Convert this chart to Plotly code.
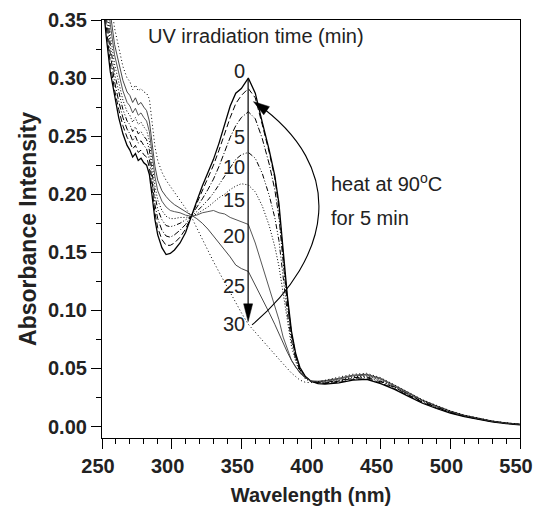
import plotly.graph_objects as go

# ---------------- data ----------------
wavelength = [250, 253, 256, 259, 262, 265, 268, 270, 272, 274, 276, 278, 280, 282, 284, 286, 288, 290,
              293, 296, 299, 302, 306, 310, 314, 318, 322, 326, 330, 334, 338, 342, 346, 350, 355, 360,
              365, 370, 374, 377, 380, 383, 386, 389, 392, 396, 400, 405, 410, 420, 430, 440, 450, 460,
              470, 480, 490, 500, 510, 520, 530, 540, 550]

abs_0min = [0.375, 0.336, 0.305, 0.284, 0.266, 0.252, 0.242, 0.238, 0.232, 0.235, 0.229, 0.231, 0.227, 0.225,
            0.217, 0.198, 0.178, 0.165, 0.154, 0.148, 0.149, 0.152, 0.158, 0.167, 0.181, 0.194, 0.207, 0.219,
            0.230, 0.244, 0.259, 0.276, 0.287, 0.291, 0.300, 0.287, 0.262, 0.238, 0.216, 0.192, 0.152, 0.113,
            0.082, 0.063, 0.051, 0.043, 0.039, 0.037, 0.0365, 0.0375, 0.040, 0.0405, 0.037, 0.032, 0.026,
            0.020, 0.0155, 0.0115, 0.0085, 0.006, 0.004, 0.0025, 0.0015]
abs_heated = [0.39, 0.345, 0.312, 0.290, 0.273, 0.259, 0.249, 0.245, 0.239, 0.242, 0.236, 0.238, 0.234, 0.232,
              0.223, 0.203, 0.184, 0.171, 0.161, 0.156, 0.156, 0.158, 0.163, 0.170, 0.181, 0.192, 0.203, 0.214,
              0.225, 0.238, 0.252, 0.266, 0.278, 0.285, 0.291, 0.283, 0.260, 0.236, 0.214, 0.188, 0.148, 0.110,
              0.080, 0.062, 0.050, 0.043, 0.039, 0.0375, 0.037, 0.038, 0.0405, 0.041, 0.0375, 0.0325, 0.0265,
              0.0205, 0.016, 0.012, 0.0088, 0.0062, 0.0042, 0.0027, 0.0016]
abs_5min = [0.40, 0.355, 0.320, 0.297, 0.280, 0.266, 0.256, 0.252, 0.246, 0.250, 0.244, 0.246, 0.242, 0.239,
            0.230, 0.210, 0.191, 0.179, 0.169, 0.164, 0.163, 0.165, 0.169, 0.174, 0.181, 0.188, 0.196, 0.204,
            0.213, 0.224, 0.236, 0.249, 0.259, 0.266, 0.271, 0.265, 0.248, 0.226, 0.204, 0.180, 0.142, 0.106,
            0.078, 0.060, 0.049, 0.042, 0.039, 0.0378, 0.0375, 0.039, 0.0415, 0.042, 0.0385, 0.0335, 0.0272,
            0.021, 0.0165, 0.0123, 0.009, 0.0064, 0.0043, 0.0028, 0.0017]
abs_10min = [0.41, 0.365, 0.328, 0.304, 0.287, 0.273, 0.263, 0.260, 0.254, 0.258, 0.252, 0.254, 0.250, 0.247,
             0.238, 0.218, 0.199, 0.187, 0.178, 0.173, 0.172, 0.173, 0.175, 0.178, 0.181, 0.185, 0.190, 0.195,
             0.201, 0.208, 0.215, 0.222, 0.230, 0.234, 0.236, 0.231, 0.218, 0.199, 0.180, 0.160, 0.130, 0.098,
             0.074, 0.058, 0.048, 0.042, 0.039, 0.038, 0.038, 0.0395, 0.042, 0.0428, 0.039, 0.034, 0.0277,
             0.0215, 0.017, 0.0126, 0.0092, 0.0066, 0.0044, 0.0029, 0.0018]
abs_15min = [0.42, 0.375, 0.337, 0.312, 0.295, 0.281, 0.271, 0.268, 0.262, 0.266, 0.260, 0.262, 0.258, 0.255,
             0.246, 0.226, 0.207, 0.195, 0.186, 0.181, 0.179, 0.179, 0.180, 0.180, 0.181, 0.183, 0.186, 0.189,
             0.193, 0.197, 0.200, 0.204, 0.207, 0.209, 0.208, 0.202, 0.190, 0.173, 0.155, 0.138, 0.115, 0.090,
             0.069, 0.056, 0.047, 0.041, 0.0385, 0.038, 0.0385, 0.040, 0.0428, 0.0435, 0.040, 0.0345, 0.028,
             0.022, 0.0172, 0.0128, 0.0093, 0.0067, 0.0045, 0.003, 0.0018]
abs_20min = [0.43, 0.385, 0.346, 0.320, 0.303, 0.289, 0.279, 0.276, 0.270, 0.274, 0.268, 0.270, 0.266, 0.263,
             0.254, 0.234, 0.215, 0.203, 0.194, 0.189, 0.186, 0.185, 0.184, 0.182, 0.181, 0.182, 0.184, 0.185,
             0.186, 0.184, 0.183, 0.180, 0.178, 0.176, 0.174, 0.158, 0.139, 0.120, 0.104, 0.092, 0.077, 0.066,
             0.057, 0.051, 0.047, 0.042, 0.039, 0.0385, 0.039, 0.0408, 0.0435, 0.0443, 0.0408, 0.035, 0.0285,
             0.0224, 0.0175, 0.013, 0.0095, 0.0068, 0.0046, 0.003, 0.0019]
abs_25min = [0.44, 0.395, 0.356, 0.329, 0.312, 0.298, 0.288, 0.285, 0.279, 0.283, 0.277, 0.279, 0.275, 0.272,
             0.263, 0.243, 0.224, 0.212, 0.203, 0.198, 0.194, 0.191, 0.188, 0.185, 0.182, 0.179, 0.175, 0.170,
             0.164, 0.158, 0.153, 0.146, 0.139, 0.136, 0.1335, 0.122, 0.110, 0.098, 0.088, 0.080, 0.071, 0.064,
             0.057, 0.051, 0.046, 0.042, 0.0393, 0.039, 0.0395, 0.0415, 0.0442, 0.045, 0.0415, 0.0355, 0.029,
             0.0228, 0.0178, 0.0133, 0.0097, 0.007, 0.0047, 0.0031, 0.002]
abs_30min = [0.45, 0.41, 0.37, 0.343, 0.325, 0.310, 0.300, 0.297, 0.290, 0.294, 0.289, 0.291, 0.288, 0.287,
             0.282, 0.262, 0.241, 0.229, 0.219, 0.212, 0.207, 0.202, 0.195, 0.188, 0.181, 0.171, 0.161, 0.151,
             0.142, 0.133, 0.124, 0.115, 0.107, 0.098, 0.088, 0.081, 0.074, 0.067, 0.062, 0.058, 0.054, 0.050,
             0.046, 0.043, 0.040, 0.038, 0.0378, 0.0385, 0.040, 0.0425, 0.045, 0.0458, 0.042, 0.036, 0.0295,
             0.023, 0.018, 0.0135, 0.0098, 0.0071, 0.0048, 0.0032, 0.002]

series_names = ["0 min", "after heating (90 °C, 5 min)", "5 min", "10 min", "15 min", "20 min", "25 min", "30 min"]
series_values = [abs_0min, abs_heated, abs_5min, abs_10min, abs_15min, abs_20min, abs_25min, abs_30min]

time_labels = ["0", "5", "10", "15", "20", "25", "30"]

x_ticks = [250, 300, 350, 400, 450, 500, 550]
y_ticks = [0.00, 0.05, 0.10, 0.15, 0.20, 0.25, 0.30, 0.35]

# ---------------- styling ----------------
FONT = "Liberation Sans, Arial, Helvetica, sans-serif"
TXT = "#222222"
styles = [
    dict(color="black", width=1.3, dash="solid"),
    dict(color="black", width=1.0, dash="6px,3px"),
    dict(color="black", width=1.0, dash="6px,2px,1px,2px"),
    dict(color="black", width=1.0, dash="5px,2px,1px,2px,1px,2px"),
    dict(color="black", width=1.0, dash="1px,2px"),
    dict(color="#444444", width=0.9, dash="solid"),
    dict(color="#333333", width=0.9, dash="solid"),
    dict(color="black", width=1.0, dash="1px,2.5px"),
]

fig = go.Figure()
for name, vals, st in zip(series_names, series_values, styles):
    assert len(vals) == len(wavelength)
    fig.add_trace(go.Scatter(x=wavelength, y=vals, mode="lines", name=name, line=st,
                             showlegend=False))

# time labels next to the vertical arrow (layout positions)
label_y = [0.306, 0.2496, 0.2233, 0.1946, 0.1644, 0.1213, 0.0884]
annotations = []
for t, yy in zip(time_labels, label_y):
    annotations.append(dict(x=354.0, y=yy, xref="x", yref="y", text=t, showarrow=False,
                            xanchor="right", yanchor="middle",
                            font=dict(family=FONT, size=20, color=TXT)))

annotations += [
    dict(x=281.5, y=0.3366, xref="x", yref="y", text="UV irradiation time (min)", showarrow=False,
         xanchor="left", yanchor="middle", font=dict(family=FONT, size=20, color=TXT)),
    dict(x=412.9, y=0.2097, xref="x", yref="y", text="heat at 90<sup>o</sup>C", showarrow=False,
         xanchor="left", yanchor="middle", font=dict(family=FONT, size=20, color=TXT)),
    dict(x=412.9, y=0.1795, xref="x", yref="y", text="for 5 min", showarrow=False,
         xanchor="left", yanchor="middle", font=dict(family=FONT, size=20, color=TXT)),
]

shapes = [
    # vertical arrow shaft + head
    dict(type="line", xref="x", yref="y", x0=354.87, y0=0.299, x1=354.87, y1=0.100,
         line=dict(color="black", width=1.2)),
    dict(type="path", xref="x", yref="y",
         path="M 354.87,0.0903 L 351.65,0.1056 L 358.10,0.1056 Z",
         fillcolor="black", line=dict(color="black", width=0.5)),
    # curved arrow (heating) + head
    dict(type="path", xref="x", yref="y",
         path="M 357.66,0.0875 C 415.08,0.1461 426.92,0.2224 360.5,0.2785",
         line=dict(color="black", width=1.1)),
    dict(type="path", xref="x", yref="y",
         path="M 358.73,0.2797 L 366.09,0.2684 L 370.18,0.2754 Z",
         fillcolor="black", line=dict(color="black", width=0.5)),
]

axis_common = dict(showline=True, linecolor="black", linewidth=1.2, mirror=True,
                   ticks="outside", ticklen=10, tickwidth=1.2, tickcolor="black",
                   showgrid=False, zeroline=False, ticklabeloverflow="allow",
                   tickfont=dict(family=FONT, size=20, color=TXT))

fig.update_layout(
    width=534, height=506,
    margin=dict(l=102, r=14, t=20, b=68, autoexpand=False),
    paper_bgcolor="white", plot_bgcolor="white",
    annotations=annotations, shapes=shapes,
    xaxis=dict(range=[250, 550], tickvals=x_ticks, ticktext=[f"<b>{v}</b>" for v in x_ticks],
               ticklabelshift=-4,
               minor=dict(ticks="outside", ticklen=5, tickwidth=1, tickcolor="black", dtick=10, tick0=250),
               title=dict(text="<b>Wavelength (nm)</b>", standoff=14,
                          font=dict(family=FONT, size=20, color=TXT)),
               **axis_common),
    yaxis=dict(range=[-0.0099, 0.35], tickvals=y_ticks, ticktext=[f"<b>{v:.2f}</b>" for v in y_ticks],
               minor=dict(ticks="outside", ticklen=5, tickwidth=1, tickcolor="black", dtick=0.025, tick0=0),
               title=dict(text="<b>Absorbance Intensity</b>", standoff=4,
                          font=dict(family=FONT, size=23, color=TXT)),
               **axis_common),
)

fig.write_html("out.html")
